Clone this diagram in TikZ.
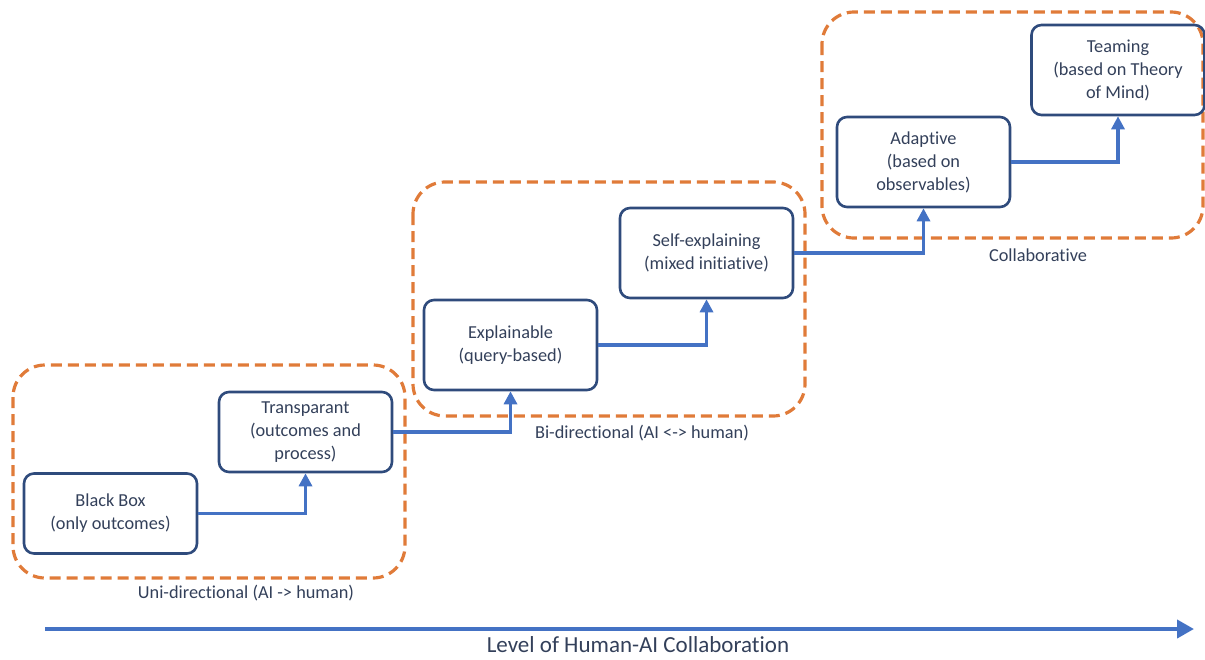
\documentclass[tikz,border=0pt]{standalone}
\usepackage{fontspec}
\setmainfont{Carlito}[Ligatures=NoCommon]
\usetikzlibrary{arrows.meta}

\definecolor{boxline}{HTML}{2F4B7C}
\definecolor{flow}{HTML}{4472C4}
\definecolor{group}{HTML}{E07B39}
\definecolor{txt}{HTML}{33405A}

\begin{document}
\begin{tikzpicture}[
            x=1pt, y=-1pt,
            level/.style={draw=boxline, line width=2.6pt, rounded corners=10pt,
                minimum width=173pt, align=center, text=txt, inner sep=2pt,
                font=\fontsize{18.3}{23}\selectfont},
            band/.style={draw=group, line width=3.2pt, dash pattern=on 11pt off 6pt,
                rounded corners=32pt},
            tag/.style={text=txt, font=\fontsize{18.3}{22}\selectfont},
            link/.style={draw=flow, line width=3.2pt,
                -{Triangle[length=13pt, width=13pt]}}]
        \useasboundingbox (0,0) rectangle (1205,659);
        % groups
        \draw[band] (13,365) rectangle (405,578);
        \draw[band] (413,182) rectangle (805,416);
        \draw[band] (822,12) rectangle (1203,238);
        \node[tag] (uni) at (246,593) {Uni-directional (AI -> human)};
        \node[tag] (bi) at (642,433) {Bi-directional (AI <-> human)};
        \node[tag] (collab) at (1038,255) {Collaborative};
        % levels
        \node[level, minimum height=80pt] (blackbox) at (110.5,513.5) {Black Box\\(only outcomes)};
        \node[level, minimum height=80pt] (transp) at (305.5,432) {Transparant\\(outcomes and\\process)};
        \node[level, minimum height=90pt] (explain) at (510.5,345) {Explainable\\(query-based)};
        \node[level, minimum height=90pt] (selfexp) at (706.5,253) {Self-explaining\\(mixed initiative)};
        \node[level, minimum height=90pt] (adapt) at (923.5,162) {Adaptive\\(based on\\observables)};
        \node[level, minimum height=90pt] (team) at (1118,70) {Teaming\\(based on Theory\\of Mind)};
        % steps
        \draw[link] (blackbox.east) -| (transp.south);
        \draw[link] (transp.east) -| (explain.south);
        \draw[link] (explain.east) -| (selfexp.south);
        \draw[link] (selfexp.east) -| (adapt.south);
        \draw[link] (adapt.east) -| (team.south);
        % axis
        \coordinate (axstart) at (45,629);
        \coordinate (axend) at (1194,629);
        \draw[draw=flow, line width=4pt, -{Triangle[length=17pt, width=18pt]}] (axstart) -- (axend);
        \node[text=txt, font=\fontsize{23}{26}\selectfont, inner sep=1pt] (axis) at (638,645) {Level of Human-AI Collaboration};
\end{tikzpicture}
\end{document}
